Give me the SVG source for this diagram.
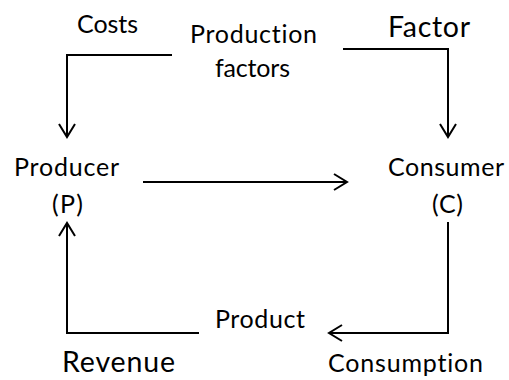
<svg xmlns="http://www.w3.org/2000/svg" width="509" height="380" viewBox="0 0 509 380">
<style>
text { font-family: Lato, "Liberation Sans", sans-serif; fill: #000; font-variant-ligatures: none; font-feature-settings: "liga" 0; }
.n { font-size: 25px; }
.b { font-size: 28.5px; }
.c { fill: none; stroke: #000; stroke-width: 2; }
</style>
<defs>
<marker id="ah" markerUnits="userSpaceOnUse" markerWidth="30" markerHeight="30" viewBox="-15 -15 30 30" refX="0" refY="0" orient="auto" overflow="visible">
<path d="M-13,-8 L0,0 L-13,8" fill="none" stroke="#000" stroke-width="2"/>
</marker>
</defs>
<rect width="509" height="380" fill="#fff"/>
<g id="connectors">
<path class="c" d="M172,55 H67 V137" marker-end="url(#ah)"/>
<path class="c" d="M343,49 H448 V137" marker-end="url(#ah)"/>
<path class="c" d="M143,182 H347" marker-end="url(#ah)"/>
<path class="c" d="M199,333 H67 V223" marker-end="url(#ah)"/>
<path class="c" d="M448,222 V333 H329" marker-end="url(#ah)"/>
</g>
<g id="production-factors">
<text class="n" x="190" y="43" textLength="127">Production</text>
<text class="n" x="215" y="77" textLength="75">factors</text>
</g>
<g id="producer">
<text class="n" x="14" y="176" textLength="105">Producer</text>
<text class="n" x="52" y="213" textLength="31">(P)</text>
</g>
<g id="consumer">
<text class="n" x="388" y="176" textLength="116">Consumer</text>
<text class="n" x="432" y="213" textLength="31">(C)</text>
</g>
<g id="product">
<text class="n" x="215" y="328" textLength="90">Product</text>
</g>
<g id="labels">
<text class="n" x="77" y="33" textLength="61">Costs</text>
<text class="b" x="388" y="37" textLength="82">Factor</text>
<text class="b" x="62" y="372" textLength="113">Revenue</text>
<text class="n" x="328" y="372" textLength="155">Consumption</text>
</g>
</svg>
